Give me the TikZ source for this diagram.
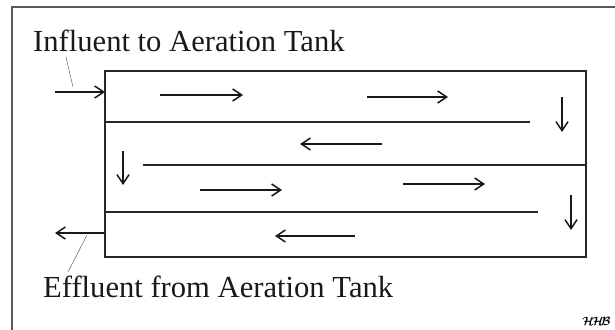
\documentclass[tikz,border=0pt]{standalone}
\usepackage{fontspec}
\setmainfont{Liberation Serif}
\usetikzlibrary{arrows.meta}

\begin{document}
\begin{tikzpicture}[x=1pt, y=-1pt]
\useasboundingbox (0,0) rectangle (615,329);

\coordinate (F_1) at (12,340);
\coordinate (F_2) at (630,7);

\coordinate (T_1) at (105,71);
\coordinate (T_2) at (586,257);

\coordinate (D1_1) at (105,122);
\coordinate (D1_2) at (530,122);
\coordinate (D2_1) at (143,165);
\coordinate (D2_2) at (586,165);
\coordinate (D3_1) at (105,212);
\coordinate (D3_2) at (538,212);

\coordinate (In_1) at (55,92);
\coordinate (In_2) at (105,92);
\coordinate (Out_1) at (105,233);
\coordinate (Out_2) at (55,233);

\coordinate (A1_1) at (160,95);
\coordinate (A1_2) at (243,95);
\coordinate (A2_1) at (367,97);
\coordinate (A2_2) at (448,97);
\coordinate (A3_1) at (562,97);
\coordinate (A3_2) at (562,132);
\coordinate (A4_1) at (382,144);
\coordinate (A4_2) at (300,144);
\coordinate (A5_1) at (123,151);
\coordinate (A5_2) at (123,185);
\coordinate (A6_1) at (200,190);
\coordinate (A6_2) at (282,190);
\coordinate (A7_1) at (403,184);
\coordinate (A7_2) at (485,184);
\coordinate (A8_1) at (571,195);
\coordinate (A8_2) at (571,230);
\coordinate (A9_1) at (355,236);
\coordinate (A9_2) at (275,236);

\coordinate (P1_1) at (66,57);
\coordinate (P1_2) at (73,87);
\coordinate (P2_1) at (87,235);
\coordinate (P2_2) at (68,272);


\draw[gray!70!black, line width=1.5pt] (F_1) |- (F_2);


\tikzset{WallStyle/.style = {line width=2pt, black!85}}

\draw[WallStyle] (T_1) rectangle (T_2);
\draw[WallStyle] (D1_1) -- (D1_2);
\draw[WallStyle] (D2_1) -- (D2_2);
\draw[WallStyle] (D3_1) -- (D3_2);


\tikzset{FlowStyle/.style = {line width=1.5pt, black!90,
 -{Straight Barb[length=9pt, width=12pt, line width=1.5pt]}} }

\draw[FlowStyle] (In_1) -- (In_2);
\draw[FlowStyle] (Out_1) -- (Out_2);
\draw[FlowStyle] (A1_1) -- (A1_2);
\draw[FlowStyle] (A2_1) -- (A2_2);
\draw[FlowStyle] (A3_1) -- (A3_2);
\draw[FlowStyle] (A4_1) -- (A4_2);
\draw[FlowStyle] (A5_1) -- (A5_2);
\draw[FlowStyle] (A6_1) -- (A6_2);
\draw[FlowStyle] (A7_1) -- (A7_2);
\draw[FlowStyle] (A8_1) -- (A8_2);
\draw[FlowStyle] (A9_1) -- (A9_2);

\draw[thin, black!70] (P1_1) -- (P1_2);
\draw[thin, black!70] (P2_1) -- (P2_2);


\tikzset{LabelStyle/.style = {
 anchor = base west,
 inner sep = 0pt,
 text = black!90,
 font = \fontsize{30.6}{32}\selectfont} }

\node[LabelStyle] (Influent) at (33,52) {Influent to Aeration Tank};
\node[LabelStyle] (Effluent) at (43,297) {Effluent from Aeration Tank};
\node[anchor=base west, inner sep=0pt, font=\fontsize{12}{12}\selectfont\mathversion{bold}]
 (Sign) at (582,325) {$\mathcal{H\!H\!B}$};

\end{tikzpicture}
\end{document}
